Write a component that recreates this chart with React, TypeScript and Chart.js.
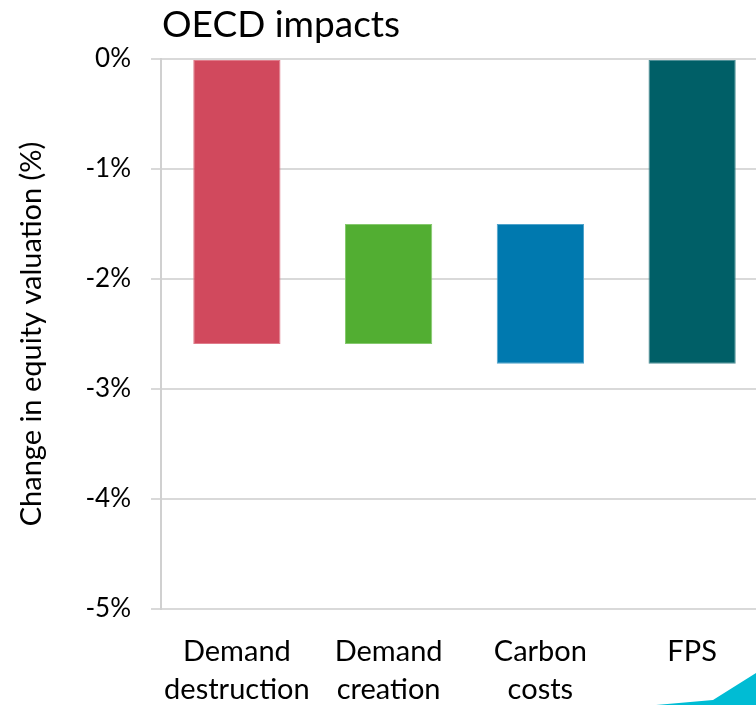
import React, { useEffect, useRef } from "react";
import { Chart, registerables } from "chart.js";

Chart.register(...registerables);

const chartTitle = "OECD impacts";
const yAxisTitle = "Change in equity valuation (%)";
const categories: string[][] = [
  ["Demand", "destruction"],
  ["Demand", "creation"],
  ["Carbon", "costs"],
  ["FPS"],
];
const barStarts = [0, -1.5, -1.5, 0];
const barEnds = [-2.59, -2.59, -2.77, -2.77];
const barColors = ["#D1495D", "#52AE32", "#0079AF", "#005F67"];
const barBorders = ["#E07B8A", "#86C96E", "#4FA3CB", "#4F9097"];
const yMin = -5;
const yMax = 0;
const yStep = 1;

const FONT = "Lato, 'Open Sans', sans-serif";

export default function App() {
  const ref = useRef<HTMLCanvasElement>(null);

  useEffect(() => {
    if (!ref.current) return;
    const titlePlugin = {
      id: "titleAtLeft",
      afterDraw(chart: any) {
        const ctx = chart.ctx;
        ctx.save();
        ctx.font = `37px ${FONT}`;
        ctx.fillStyle = "#000000";
        ctx.textBaseline = "alphabetic";
        ctx.textAlign = "left";
        ctx.fillText(chartTitle, chart.chartArea.left + 1, chart.chartArea.top - 22);
        // decorative corner triangle
        const w = 756;
        const h = chart.height;
        ctx.fillStyle = "#00BCD4";
        ctx.beginPath();
        ctx.moveTo(w, h - 32);
        ctx.lineTo(w, h);
        ctx.lineTo(w - 100, h);
        ctx.lineTo(w - 43, h - 5);
        ctx.closePath();
        ctx.fill();
        ctx.restore();
      },
    };

    const chart = new Chart(ref.current, {
      type: "bar",
      data: {
        labels: categories,
        datasets: [
          {
            data: barStarts.map((s, i) => [s, barEnds[i]]) as any,
            backgroundColor: barColors,
            borderColor: barBorders,
            borderWidth: 1,
            borderSkipped: false,
            barPercentage: 0.575,
            categoryPercentage: 1,
          },
        ],
      },
      options: {
        animation: false,
        responsive: false,
        maintainAspectRatio: false,
        layout: { padding: { top: 59, left: 0, right: 0, bottom: 0 } },
        plugins: {
          legend: { display: false },
          tooltip: { enabled: false },
          title: { display: false },
        },
        scales: {
          x: {
            offset: true,
            grid: { display: false, drawTicks: false },
            border: { display: false },
            ticks: {
              color: "#000000",
              padding: 24,
              font: { family: FONT, size: 29, lineHeight: 1.31 },
              maxRotation: 0,
              autoSkip: false,
            },
            afterFit(scale: any) {
              scale.height = 96;
            },
          },
          y: {
            min: yMin,
            max: yMax,
            grid: {
              color: "#D9D9D9",
              lineWidth: 2,
              drawTicks: true,
              tickLength: 10,
            },
            border: { display: true, color: "#D0D0D0", width: 2 },
            ticks: {
              stepSize: yStep,
              color: "#000000",
              padding: 20,
              font: { family: FONT, size: 26 },
              callback: (v: any) => `${Math.round(Number(v))}%`,
            },
            title: {
              display: true,
              text: yAxisTitle,
              color: "#000000",
              font: { family: FONT, size: 29, lineHeight: 1.2 },
              padding: { top: 14, bottom: 0 },
            },
            afterFit(scale: any) {
              scale.width = 161;
            },
          },
        },
      },
      plugins: [titlePlugin],
    });
    return () => chart.destroy();
  }, []);

  return (
    <div
      style={{
        position: "fixed",
        left: 0,
        top: 0,
        width: 756,
        height: 705,
        overflow: "hidden",
        background: "#ffffff",
      }}
    >
      <canvas ref={ref} width={768} height={705} style={{ display: "block" }} />
    </div>
  );
}
